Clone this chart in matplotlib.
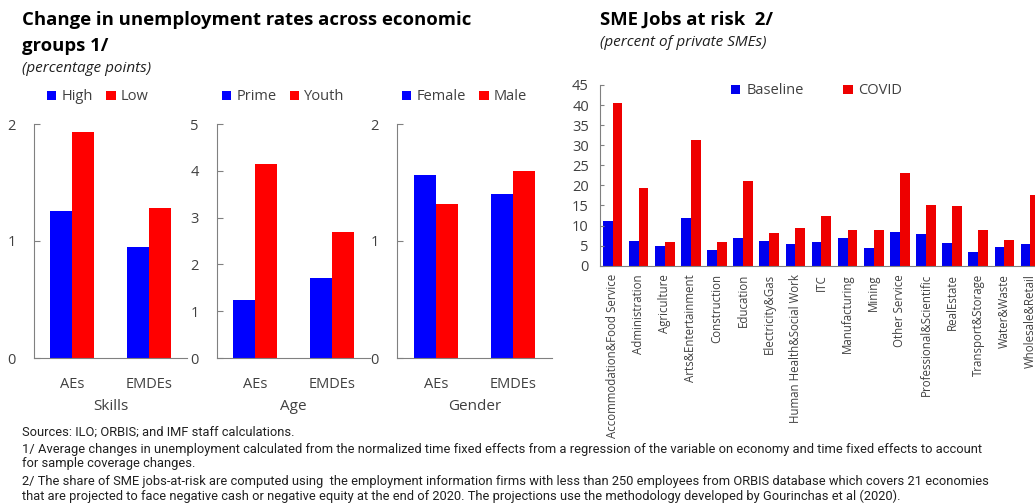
import matplotlib
matplotlib.use("Agg")
import matplotlib.pyplot as plt
import numpy as np

plt.rcParams['font.family'] = ['Open Sans', 'DejaVu Sans']

W, H = 1035, 503

# --- data: left panels ---
groups = ['AEs', 'EMDEs']
skills_high = [1.26, 0.95]
skills_low = [1.93, 1.28]
age_prime = [1.25, 1.70]
age_youth = [4.14, 2.69]
gender_female = [1.56, 1.40]
gender_male = [1.32, 1.60]

# --- data: right panel ---
sectors = ['Accommodation&Food Service', 'Administration', 'Agriculture',
           'Arts&Entertainment', 'Construction', 'Education', 'Electricity&Gas',
           'Human Health&Social Work', 'ITC', 'Manufacturing', 'Mining',
           'Other Service', 'Professional&Scientific', 'RealEstate',
           'Transport&Storage', 'Water&Waste', 'Wholesale&Retail']
baseline = [11.1, 6.1, 4.8, 12.0, 3.8, 6.8, 6.1, 5.3, 6.0, 6.8, 4.3,
            8.3, 8.0, 5.6, 3.5, 4.7, 5.5]
covid = [40.6, 19.4, 5.8, 31.4, 5.8, 21.2, 8.1, 9.5, 12.5, 9.0, 9.0,
         23.1, 15.1, 14.9, 9.0, 6.5, 17.6]

BLUE = '#0000FF'
RED = '#FF0000'
GRAY = '#808080'
TXT = '#404040'

fig = plt.figure(figsize=(W / 100, H / 100), dpi=100)


def px_axes(x0, x1, ytop, ybot):
    return fig.add_axes([x0 / W, 1 - ybot / H, (x1 - x0) / W, (ybot - ytop) / H])


def fig_xy(x, y):
    return x / W, 1 - y / H


panels = [
    (34, 187, 'Skills', skills_high, skills_low, ('High', 'Low'), 2, [0, 1, 2], 49),
    (217, 370, 'Age', age_prime, age_youth, ('Prime', 'Youth'), 5, [0, 1, 2, 3, 4, 5], 224),
    (397, 552, 'Gender', gender_female, gender_male, ('Female', 'Male'), 2, [0, 1, 2], 404),
]

x = np.arange(len(groups))
bw = 0.285
for x0, x1, xlab, s1, s2, names, ymax, yt, legx in panels:
    ax = px_axes(x0, x1, 124, 358)
    b1 = ax.bar(x - bw / 2, s1, bw, color=BLUE, label=names[0])
    b2 = ax.bar(x + bw / 2, s2, bw, color=RED, label=names[1])
    ax.set_xlim(-0.5, 1.5)
    ax.set_ylim(0, ymax)
    ax.set_yticks(yt)
    ax.set_xticks(x)
    ax.set_xticklabels(groups)
    ax.set_xlabel(xlab, fontsize=11, color=TXT, labelpad=5)
    for s in ['top', 'right']:
        ax.spines[s].set_visible(False)
    for s in ['left', 'bottom']:
        ax.spines[s].set_color(GRAY)
    ax.tick_params(axis='x', length=0, pad=14, labelsize=10.5, labelcolor=TXT)
    ax.tick_params(axis='y', length=4, direction='in', color=GRAY, pad=13,
                   labelsize=10.5, labelcolor=TXT)
    fig.legend(handles=[b1, b2], loc='center left', bbox_to_anchor=fig_xy(legx - 2, 97),
               ncol=2, frameon=False, fontsize=10.5, handlelength=0.65,
               handleheight=0.65, handletextpad=0.35, columnspacing=0.9,
               borderpad=0, borderaxespad=0, labelcolor=TXT)

# --- right panel ---
ax = px_axes(600, 1044, 85, 265.7)
xs = np.arange(len(sectors))
w = 0.375
bb = ax.bar(xs - w / 2, baseline, w, color='#0000EE', label='Baseline')
bc = ax.bar(xs + w / 2, covid, w, color='#EE0000', label='COVID')
ax.set_xlim(-0.48, len(sectors) - 0.48)
ax.set_ylim(0, 45)
ax.set_yticks(range(0, 46, 5))
ax.set_xticks(xs)
ax.set_xticklabels(sectors, rotation=90)
for s in ['top', 'right']:
    ax.spines[s].set_visible(False)
for s in ['left', 'bottom']:
    ax.spines[s].set_color(GRAY)
ax.tick_params(axis='x', length=0, pad=6, labelsize=8.3, labelcolor=TXT)
ax.tick_params(axis='y', length=3, direction='in', color=GRAY, pad=8,
               labelsize=10.5, labelcolor=TXT)
fig.legend(handles=[bb, bc], loc='center left', bbox_to_anchor=fig_xy(731, 91),
           ncol=2, frameon=False, fontsize=10.5, handlelength=0.65,
           handleheight=0.65, handletextpad=0.4, columnspacing=2.7,
           borderpad=0, borderaxespad=0, labelcolor=TXT)

# --- titles ---
fig.text(*fig_xy(22, 20), 'Change in unemployment rates across economic',
         fontsize=13.3, fontweight='bold', va='center', ha='left')
fig.text(*fig_xy(22, 46), 'groups 1/', fontsize=13.3, fontweight='bold',
         va='center', ha='left')
fig.text(*fig_xy(22, 68), '(percentage points)', fontsize=11, style='italic',
         va='center', ha='left', color='#202020')
fig.text(*fig_xy(600, 20), 'SME Jobs at risk  2/', fontsize=13.3, fontweight='bold',
         va='center', ha='left')
fig.text(*fig_xy(600, 43), '(percent of private SMEs)', fontsize=11, style='italic',
         va='center', ha='left', color='#202020')

# --- footnotes ---
notes = [
    'Sources: ILO; ORBIS; and IMF staff calculations.',
    '1/ Average changes in unemployment calculated from the normalized time fixed effects from a regression of the variable on economy and time fixed effects to account',
    'for sample coverage changes.',
    '2/ The share of SME jobs-at-risk are computed using  the employment information firms with less than 250 employees from ORBIS database which covers 21 economies',
    'that are projected to face negative cash or negative equity at the end of 2020. The projections use the methodology developed by Gourinchas et al (2020).',
]
ny = [432, 449, 464, 481, 496]
texts = []
for t, yy in zip(notes, ny):
    texts.append(fig.text(*fig_xy(22, yy), t, fontsize=10, va='center', ha='left',
                          color='#202020', family=['Roboto', 'DejaVu Sans']))

# shrink footnotes so the longest line ends where it does in the source
r = fig.canvas.get_renderer()
wmax = texts[1].get_window_extent(r).width
fs = 10 * 963 / wmax
for t in texts:
    t.set_fontsize(fs)

fig.savefig('out.png', dpi=100)
